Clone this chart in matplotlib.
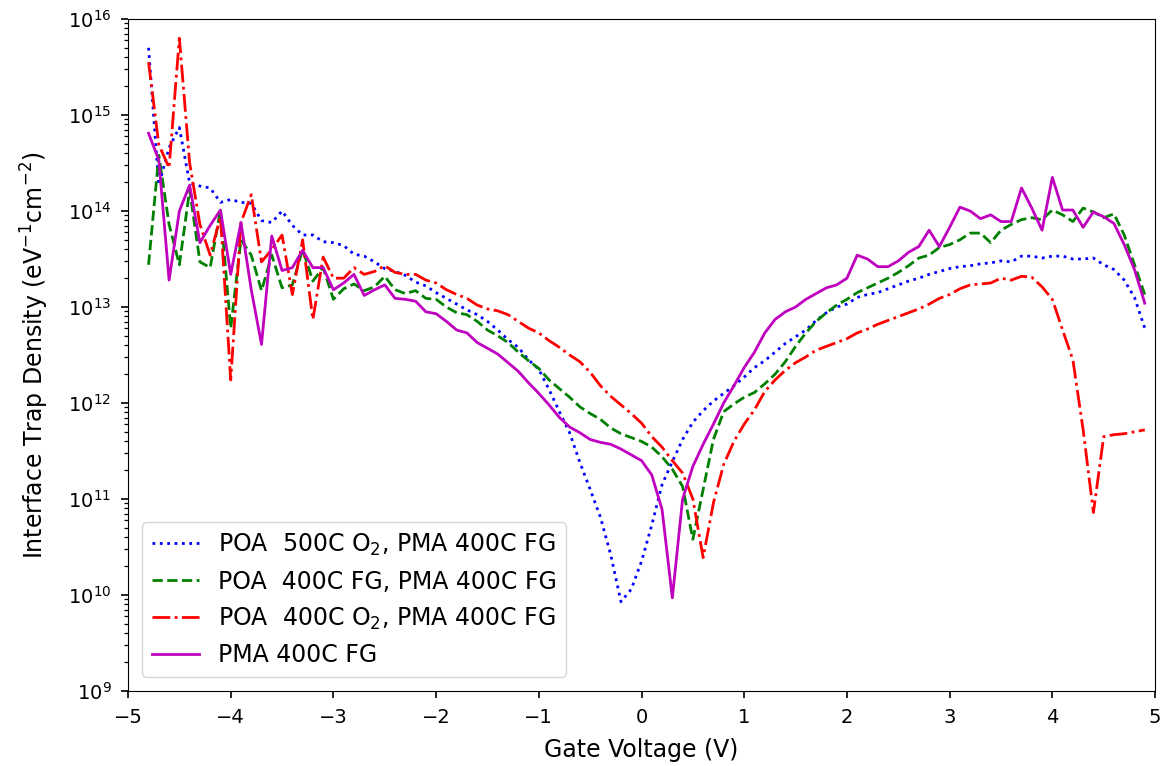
import numpy as np
import matplotlib
matplotlib.use("Agg")
import matplotlib.pyplot as plt
from matplotlib.ticker import LogLocator

# gate voltage grid, -4.8 V to 4.9 V in 0.1 V steps
gate_v = np.round(np.arange(-4.8, 4.95, 0.1), 1)

# log10 of Dit (eV^-1 cm^-2)
log_poa500_o2 = [
    15.70, 14.27, 14.66, 14.87, 14.29, 14.26, 14.24, 14.09, 14.12, 14.09,
    14.08, 13.90, 13.88, 14.00, 13.85, 13.75, 13.75, 13.68, 13.67, 13.64,
    13.55, 13.53, 13.47, 13.40, 13.37, 13.33, 13.26, 13.22, 13.15, 13.09,
    13.03, 12.97, 12.92, 12.85, 12.76, 12.66, 12.58, 12.45, 12.35, 12.14,
    11.91, 11.69, 11.38, 11.10, 10.81, 10.42, 9.93, 10.06, 10.35, 10.73,
    11.15, 11.39, 11.62, 11.80, 11.92, 12.02, 12.10, 12.18, 12.27, 12.37,
    12.44, 12.53, 12.62, 12.69, 12.76, 12.86, 12.94, 13.00, 13.03, 13.10,
    13.13, 13.15, 13.19, 13.23, 13.27, 13.30, 13.34, 13.37, 13.40, 13.42,
    13.43, 13.45, 13.46, 13.48, 13.47, 13.53, 13.53, 13.51, 13.53, 13.53,
    13.50, 13.50, 13.51, 13.44, 13.39, 13.28, 13.10, 12.78,
]
log_poa400_fg = [
    13.44, 14.58, 13.86, 13.44, 14.22, 13.47, 13.41, 14.01, 12.78, 13.70,
    13.54, 13.17, 13.54, 13.20, 13.23, 13.60, 13.27, 13.41, 13.08, 13.19,
    13.24, 13.17, 13.21, 13.32, 13.18, 13.14, 13.17, 13.09, 13.08, 13.00,
    12.94, 12.92, 12.85, 12.76, 12.70, 12.63, 12.53, 12.44, 12.36, 12.24,
    12.15, 12.06, 11.96, 11.89, 11.83, 11.74, 11.68, 11.64, 11.60, 11.54,
    11.44, 11.31, 11.13, 10.58, 11.10, 11.62, 11.91, 11.99, 12.06, 12.11,
    12.20, 12.30, 12.43, 12.59, 12.73, 12.85, 12.94, 13.02, 13.08, 13.15,
    13.20, 13.25, 13.30, 13.36, 13.43, 13.51, 13.54, 13.62, 13.65, 13.70,
    13.77, 13.77, 13.67, 13.80, 13.86, 13.91, 13.93, 13.91, 14.01, 13.96,
    13.89, 14.03, 13.99, 13.93, 13.97, 13.75, 13.44, 13.13,
]
log_poa400_o2 = [
    15.55, 14.69, 14.45, 15.80, 14.50, 13.86, 13.54, 13.94, 12.24, 13.88,
    14.17, 13.47, 13.60, 13.75, 13.13, 13.70, 12.87, 13.52, 13.30, 13.30,
    13.41, 13.34, 13.37, 13.43, 13.36, 13.34, 13.34, 13.28, 13.25, 13.18,
    13.13, 13.09, 13.02, 12.98, 12.96, 12.92, 12.85, 12.78, 12.73, 12.65,
    12.58, 12.50, 12.43, 12.32, 12.18, 12.07, 11.98, 11.89, 11.79, 11.65,
    11.54, 11.40, 11.27, 11.00, 10.39, 10.96, 11.36, 11.60, 11.78, 11.93,
    12.12, 12.24, 12.34, 12.42, 12.48, 12.55, 12.59, 12.63, 12.67, 12.73,
    12.77, 12.82, 12.86, 12.90, 12.94, 12.98, 13.03, 13.09, 13.13, 13.19,
    13.23, 13.24, 13.25, 13.30, 13.28, 13.32, 13.31, 13.21, 13.08, 12.76,
    12.45, 11.72, 10.86, 11.65, 11.67, 11.68, 11.70, 11.72,
]
log_pma400_fg = [
    14.81, 14.53, 13.28, 14.00, 14.27, 13.67, 13.85, 14.01, 13.34, 13.88,
    13.18, 12.61, 13.74, 13.38, 13.41, 13.59, 13.41, 13.41, 13.18, 13.25,
    13.34, 13.12, 13.18, 13.23, 13.09, 13.08, 13.06, 12.95, 12.93, 12.85,
    12.76, 12.73, 12.63, 12.57, 12.51, 12.42, 12.33, 12.21, 12.10, 11.98,
    11.85, 11.75, 11.69, 11.62, 11.59, 11.57, 11.52, 11.46, 11.40, 11.25,
    10.89, 9.97, 11.00, 11.34, 11.57, 11.78, 12.00, 12.18, 12.37, 12.53,
    12.73, 12.87, 12.95, 13.00, 13.08, 13.14, 13.20, 13.23, 13.30, 13.54,
    13.50, 13.42, 13.42, 13.48, 13.57, 13.63, 13.80, 13.63, 13.83, 14.04,
    14.00, 13.92, 13.96, 13.89, 13.89, 14.24, 14.03, 13.80, 14.35, 14.01,
    14.01, 13.83, 13.99, 13.94, 13.87, 13.65, 13.39, 13.04,
]

labels = [
    "POA  500C O$_2$, PMA 400C FG",
    "POA  400C FG, PMA 400C FG",
    "POA  400C O$_2$, PMA 400C FG",
    "PMA 400C FG",
]

plt.rcParams["font.size"] = 17
plt.rcParams["xtick.labelsize"] = 14
plt.rcParams["ytick.labelsize"] = 14

fig = plt.figure(figsize=(11.68, 7.66), dpi=100)
ax = fig.add_axes([0.1096, 0.0979, 0.8793, 0.8773])

ax.semilogy(gate_v, 10 ** np.array(log_poa500_o2), "b:", lw=2.0, label=labels[0])
ax.semilogy(gate_v, 10 ** np.array(log_poa400_fg), "g--", lw=2.0, label=labels[1])
ax.semilogy(gate_v, 10 ** np.array(log_poa400_o2), "r-.", lw=2.0, label=labels[2])
ax.semilogy(gate_v, 10 ** np.array(log_pma400_fg), "m-", lw=2.0, label=labels[3])

ax.set_xlim(-5, 5)
ax.set_ylim(1e9, 1e16)
ax.set_xticks(np.arange(-5, 6, 1))
ax.yaxis.set_minor_locator(LogLocator(base=10, subs=np.arange(2, 10), numticks=100))
ax.tick_params(which="major", length=5, width=1.2, pad=7)
ax.tick_params(which="minor", length=3, width=0.9)
ax.set_xlabel("Gate Voltage (V)", labelpad=8)
ax.set_ylabel("Interface Trap Density (eV$^{-1}$cm$^{-2}$)", labelpad=12)
ax.legend(loc="lower left", borderaxespad=0.6)

fig.savefig("out.png", dpi=100)
